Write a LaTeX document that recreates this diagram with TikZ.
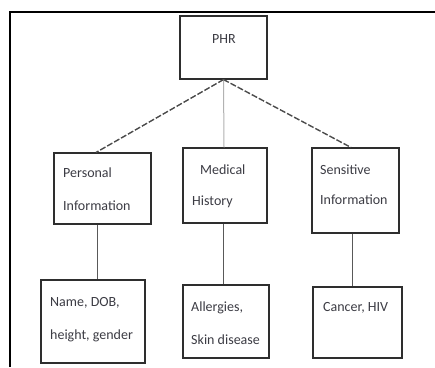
\documentclass[tikz,border=0pt]{standalone}
\usepackage{fontspec}
\setmainfont{Carlito}
\usetikzlibrary{shadows}
\definecolor{ink}{HTML}{3C3C44}
\definecolor{edge}{HTML}{2E2E2E}
\tikzset{
  box/.style={draw=edge, line width=1.1pt, fill=white, inner sep=0pt,
    drop shadow={shadow xshift=1pt, shadow yshift=-1pt, fill=black!35}},
  lbl/.style={font=\fontsize{14}{16}\selectfont, text=ink, inner sep=0pt, anchor=base west},
  dashlink/.style={draw=black!70, line width=1.4pt, dash pattern=on 6pt off 2pt},
  link/.style={draw=black!65, line width=1pt},
  lightlink/.style={draw=black!30, line width=1pt},
}
\begin{document}
\begin{tikzpicture}[x=1pt,y=-1pt]
  \useasboundingbox (0,0) rectangle (435,367);
  \fill[white] (0,0) rectangle (435,367);

  % frame: top and left rules
  \draw[line width=2pt] (9.5,367) -- (9.5,11.5) -- (435,11.5);

  % boxes
  \node[box, minimum width=87pt, minimum height=63pt] (phr) at (223.5,47.5) {};
  \node[box, minimum width=97pt, minimum height=71pt] (pers) at (102.5,188.5) {};
  \node[box, minimum width=84pt, minimum height=75pt] (med) at (225,185.5) {};
  \node[box, minimum width=87pt, minimum height=85pt] (sens) at (355.5,190.5) {};
  \node[box, minimum width=104pt, minimum height=83pt] (name) at (93,321.5) {};
  \node[box, minimum width=86pt, minimum height=73pt] (alle) at (226,321.5) {};
  \node[box, minimum width=89pt, minimum height=71pt] (canc) at (357.5,322.5) {};

  % labels
  \node[lbl, anchor=base] (tphr) at (224,43) {PHR};
  \node[lbl] (tpers1) at (63,177.5) {Personal};
  \node[lbl] (tpers2) at (63,210.5) {Information};
  \node[lbl] (tmed1) at (200,174.5) {Medical};
  \node[lbl] (tmed2) at (192,205.5) {History};
  \node[lbl] (tsens1) at (320,174.5) {Sensitive};
  \node[lbl] (tsens2) at (320,204.5) {Information};
  \node[lbl] (tname1) at (50,306.5) {Name, DOB,};
  \node[lbl] (tname2) at (50,339.5) {height, gender};
  \node[lbl] (talle1) at (191,311.5) {Allergies,};
  \node[lbl] (talle2) at (191,344.5) {Skin disease};
  \node[lbl] (tcanc) at (323,311.5) {Cancer, HIV};

  % connectors from the root
  \draw[dashlink] (phr.south) -- ([xshift=-6.5pt]pers.north);
  \draw[lightlink] (phr.south) -- ([xshift=-1pt]med.north);
  \draw[dashlink] (phr.south) -- ([xshift=-4.5pt]sens.north);

  % connectors to the detail boxes
  \draw[link] ([xshift=-5.5pt]pers.south) -- ([xshift=-5.5pt]pers.south |- name.north);
  \draw[link] ([xshift=-1.5pt]med.south) -- ([xshift=-1.5pt]med.south |- alle.north);
  \draw[link] ([xshift=-3.5pt]sens.south) -- ([xshift=-3.5pt]sens.south |- canc.north);
\end{tikzpicture}
\end{document}
